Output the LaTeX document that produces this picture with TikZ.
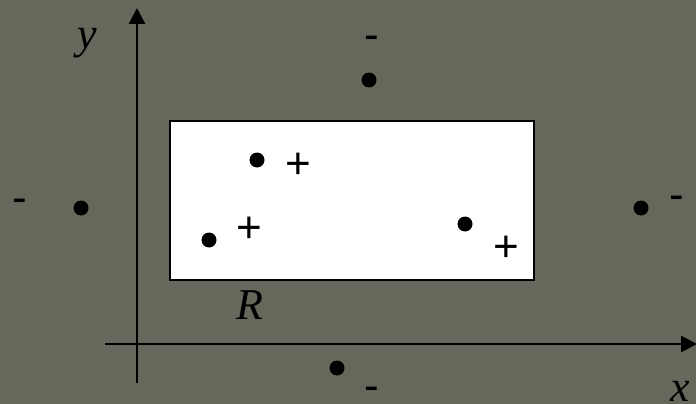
\documentclass[tikz,border=0pt]{standalone}
\usepackage{fontspec}
\setmainfont{Liberation Serif}
\newfontfamily\signfont{Liberation Sans}
\usetikzlibrary{arrows.meta}
\definecolor{bgolive}{RGB}{103,104,92}
\begin{document}
\begin{tikzpicture}[x=1pt,y=-1pt,
  axis/.style={line width=2.5pt,-{Triangle[length=16pt,width=16pt]}},
  pt/.style={circle,fill=black,inner sep=0pt,minimum size=15pt},
  sign/.style={inner sep=0pt,font=\signfont\fontsize{44}{44}\selectfont},
  lbl/.style={inner sep=0pt,font=\itshape\fontsize{44}{44}\selectfont}]
\fill[bgolive] (0,0) rectangle (696,404);
\useasboundingbox (0,0) rectangle (696,404);
% region
\node[draw=black,fill=white,line width=2pt,minimum width=364pt,minimum height=159pt,inner sep=0pt,anchor=north west] (R) at (169,120) {};
% axes
\coordinate (yb) at (137,383);
\coordinate (yt) at (137,8);
\coordinate (xl) at (105,344);
\coordinate (xr) at (697,344);
\draw[axis] (yb) -- (yt);
\draw[axis] (xl) -- (xr);
% labels
\node[lbl] (ly) at (87,43) {y};
\node[lbl] (lx) at (680,391) {x};
\node[lbl] (lR) at (250,305) {R};
% points
\node[pt] (p1) at (257,160) {};
\node[pt] (p2) at (209,240) {};
\node[pt] (p3) at (465,224) {};
\node[pt] (p4) at (369,80) {};
\node[pt] (p5) at (81,208) {};
\node[pt] (p6) at (641,208) {};
\node[pt] (p7) at (337,368) {};
% signs
\node[sign] (s1) at (298,166) {+};
\node[sign] (s2) at (249,230) {+};
\node[sign] (s3) at (506,249) {+};
\node[sign] (m1) at (372,43) {-};
\node[sign] (m2) at (20,206) {-};
\node[sign] (m3) at (677,203) {-};
\node[sign] (m4) at (372,394) {-};
\end{tikzpicture}
\end{document}
